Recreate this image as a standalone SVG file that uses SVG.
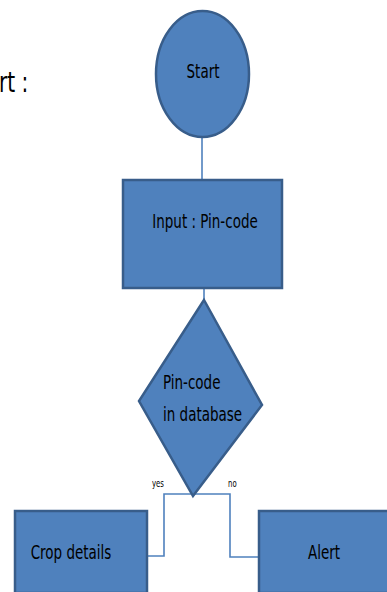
<svg xmlns="http://www.w3.org/2000/svg" width="387" height="592" viewBox="0 0 387 592">
  <style>
    .shape { fill: #4F81BD; stroke: #385D8A; stroke-width: 2.5; }
    .conn { fill: none; stroke: #4F81BD; stroke-width: 1.6; }
    .label { font-family: "DejaVu Sans Condensed", "Liberation Sans Narrow", "Liberation Sans", sans-serif; fill: #000; }
    .node { font-size: 20px; }
    .tiny { font-size: 11px; }
  </style>
  <rect width="387" height="592" fill="#fff"/>
  <!-- heading fragment at the left edge -->
  <text class="label" transform="translate(-1,92) scale(0.8,1)" font-size="28">rt :</text>
  <g id="connectors">
    <line class="conn" x1="202" y1="137" x2="202" y2="180"/>
    <line class="conn" x1="204" y1="288" x2="204" y2="300"/>
    <polyline class="conn" points="193,494 164,494 164,556 147,556"/>
    <polyline class="conn" points="193,494 230,494 230,557 259,557"/>
    <text class="label tiny" transform="translate(152,487) scale(0.7,1)">yes</text>
    <text class="label tiny" transform="translate(228,487) scale(0.7,1)">no</text>
  </g>
  <g id="start">
    <ellipse class="shape" cx="202.5" cy="74" rx="46.5" ry="63"/>
    <text class="label node" transform="translate(203,78) scale(0.75,1)" text-anchor="middle">Start</text>
  </g>
  <g id="input">
    <rect class="shape" x="123" y="180" width="159" height="108"/>
    <text class="label node" transform="translate(205,228) scale(0.75,1)" text-anchor="middle">Input : Pin-code</text>
  </g>
  <g id="decision">
    <polygon class="shape" points="204,300 262,405 193,496 139,401"/>
    <text class="label node" transform="translate(163,389) scale(0.75,1)">Pin-code</text>
    <text class="label node" transform="translate(163,421) scale(0.75,1)">in database</text>
  </g>
  <g id="crop">
    <rect class="shape" x="15" y="511" width="132" height="82"/>
    <text class="label node" transform="translate(71,559) scale(0.75,1)" text-anchor="middle">Crop details</text>
  </g>
  <g id="alert">
    <rect class="shape" x="259" y="511" width="132" height="82"/>
    <text class="label node" transform="translate(324,559) scale(0.75,1)" text-anchor="middle">Alert</text>
  </g>
</svg>
